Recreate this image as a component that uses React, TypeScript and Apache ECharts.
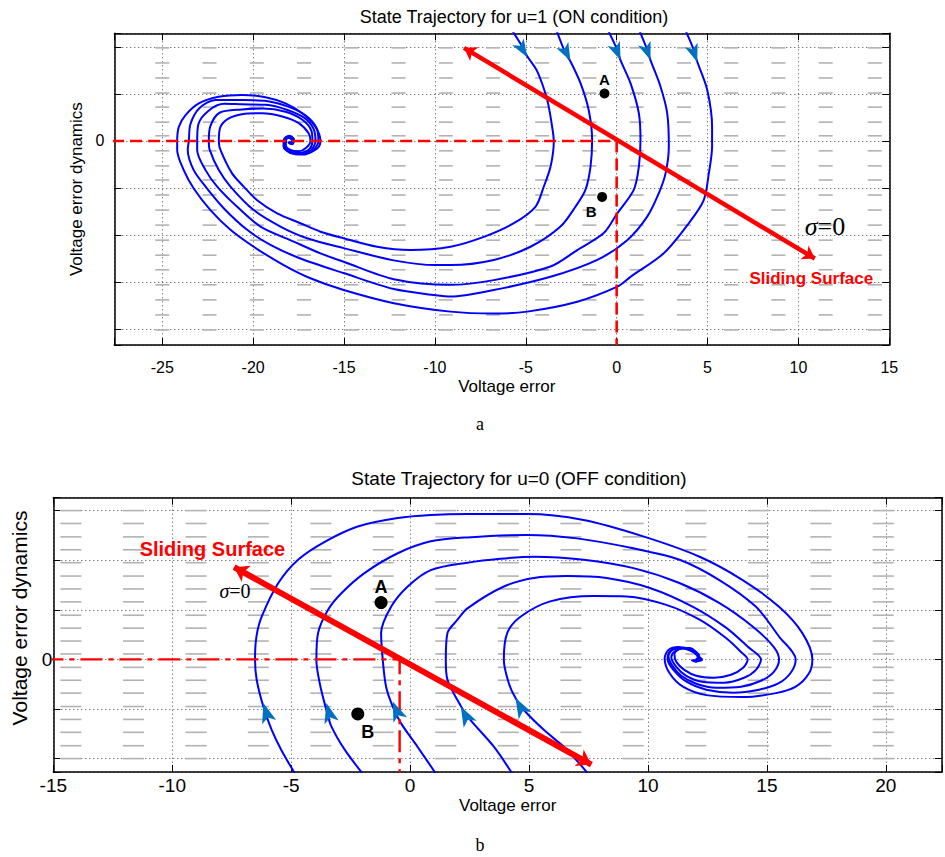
import React, { useEffect, useRef } from 'react';
import * as echarts from 'echarts';

const SANS = '"Liberation Sans", Arial, Helvetica, sans-serif';
const SERIF = '"Liberation Serif", "Times New Roman", Times, serif';

// ---------- axis ranges ----------
const topXRange = [-27.64, 15];
const topYRange = [-4.34, 2.29];
const botXRange = [-15, 22.36];
const botYRange = [-2.27, 3.26];

// ---------- background direction field (gray dashes) ----------
const topFieldX = [-25.0, -22.4, -19.8, -17.2, -14.6, -12.0, -9.4, -6.8, -4.1, -1.5, 1.1, 3.7, 6.3, 8.9, 11.5, 14.2];
const topFieldY = [1.98, 1.66, 1.34, 1.02, 0.72, 0.4, 0.11, -0.21, -0.53, -0.83, -1.15, -1.47, -1.79, -2.11, -2.43, -2.74, -3.06, -3.38, -3.7, -4.02];
const botFieldX = [-14.26, -11.63, -9.0, -6.38, -3.75, -1.13, 1.5, 4.13, 6.76, 9.38, 12.01, 14.64, 17.27, 19.89];
const botFieldY = [3.0, 2.74, 2.47, 2.21, 1.95, 1.68, 1.42, 1.16, 0.89, 0.63, 0.37, 0.11, -0.16, -0.42, -0.68, -0.95, -1.21, -1.47, -1.74, -2.0];

// ---------- (a) u = 1 trajectories ----------
const topTraj1 = [[-5.75, 2.35], [-5.2, 2.01], [-4.92, 1.8], [-4.37, 1.48], [-3.82, 0.87], [-3.55, 0.3], [-3.46, -0.01], [-3.64, -0.55], [-4.01, -0.97], [-4.47, -1.4], [-5.66, -1.75], [-7.31, -2.04], [-9.14, -2.25], [-11.35, -2.32], [-13.18, -2.25], [-15.02, -2.07], [-16.3, -1.93], [-17.4, -1.75], [-18.68, -1.54], [-19.78, -1.26], [-20.52, -0.97], [-21.16, -0.69], [-21.8, -0.19], [-21.89, 0], [-21.8, 0.3], [-21.34, 0.48], [-20.61, 0.57], [-19.5, 0.59], [-18.4, 0.52], [-17.49, 0.38], [-16.94, 0.16], [-16.85, 0], [-17.1, -0.15], [-17.5, -0.22], [-17.95, -0.19], [-18.2, -0.09], [-18.18, 0.03], [-17.95, 0.08], [-17.8, 0.02], [-17.88, -0.05], [-18.02, -0.02]];
const topTraj2 = [[-3.31, 2.35], [-2.82, 1.87], [-2.54, 1.69], [-1.99, 1.23], [-1.54, 0.66], [-1.35, 0.02], [-1.44, -0.55], [-1.72, -1.04], [-2.27, -1.4], [-3.09, -1.82], [-4.74, -2.25], [-6.76, -2.53], [-9.14, -2.64], [-9.97, -2.64], [-12.26, -2.54], [-15.02, -2.28], [-17.03, -2.07], [-18.5, -1.82], [-19.97, -1.47], [-21.25, -0.97], [-21.89, -0.62], [-22.39, -0.19], [-22.44, 0], [-22.35, 0.32], [-21.85, 0.6], [-20.61, 0.67], [-19.43, 0.69], [-18.22, 0.62], [-17.29, 0.45], [-16.79, 0.21], [-16.74, 0], [-16.9, -0.17], [-17.4, -0.25], [-17.95, -0.21], [-18.25, -0.1], [-18.22, 0.04], [-17.97, 0.09], [-17.78, 0.02], [-17.87, -0.06], [-18.04, -0.02]];
const topTraj3 = [[-0.47, 2.35], [0.03, 1.94], [0.21, 1.72], [0.76, 1.23], [1.22, 0.59], [1.31, 0.02], [1.22, -0.55], [0.94, -1.04], [0.03, -1.54], [-0.71, -1.96], [-2.17, -2.32], [-3.64, -2.67], [-6.76, -2.96], [-9.14, -3.06], [-12.26, -2.94], [-15.02, -2.57], [-16.3, -2.39], [-17.77, -2.14], [-19.6, -1.82], [-20.88, -1.4], [-21.98, -0.97], [-22.62, -0.62], [-23.08, -0.19], [-23.08, 0], [-23.01, 0.36], [-22.4, 0.66], [-21.58, 0.79], [-20.61, 0.78], [-19.32, 0.77], [-18.11, 0.66], [-17.18, 0.49], [-16.68, 0.26], [-16.57, 0], [-16.8, -0.19], [-17.35, -0.27], [-17.95, -0.23], [-18.28, -0.11], [-18.25, 0.05], [-17.98, 0.1], [-17.76, 0.03], [-17.86, -0.06], [-18.05, -0.03]];
const topTraj4 = [[1.25, 2.35], [1.68, 1.94], [1.86, 1.72], [2.41, 1.16], [2.78, 0.59], [2.87, -0.12], [2.69, -0.69], [2.32, -1.11], [1.68, -1.61], [0.58, -2.11], [-1.07, -2.53], [-3.64, -2.89], [-6.76, -3.17], [-9.14, -3.31], [-9.97, -3.28], [-12.26, -3.15], [-15.02, -2.81], [-17.4, -2.5], [-19.05, -2.21], [-20.33, -1.89], [-21.62, -1.43], [-22.62, -0.97], [-23.27, -0.62], [-23.6, -0.19], [-23.54, 0], [-23.45, 0.36], [-22.95, 0.7], [-22.07, 0.87], [-20.61, 0.87], [-19.27, 0.85], [-18.0, 0.72], [-17.07, 0.53], [-16.52, 0.28], [-16.41, 0], [-16.7, -0.2], [-17.3, -0.29], [-17.97, -0.25], [-18.32, -0.12], [-18.28, 0.05], [-18.0, 0.11], [-17.75, 0.03], [-17.85, -0.07], [-18.06, -0.03]];
const topTraj5 = [[3.79, 2.35], [4.24, 1.94], [4.43, 1.69], [4.98, 1.09], [5.25, 0.3], [5.25, -0.12], [5.07, -0.69], [4.79, -1.26], [3.97, -1.75], [2.59, -2.39], [0.76, -2.89], [0.03, -3.1], [-2.17, -3.42], [-4.92, -3.63], [-6.76, -3.67], [-9.14, -3.63], [-12.26, -3.45], [-15.02, -3.17], [-16.85, -2.92], [-18.32, -2.64], [-19.97, -2.25], [-21.25, -1.89], [-22.35, -1.47], [-23.27, -1.01], [-23.82, -0.62], [-24.18, -0.19], [-24.18, 0], [-24.09, 0.3], [-23.72, 0.55], [-22.99, 0.8], [-21.89, 0.94], [-20.61, 0.98], [-19.32, 0.93], [-18.22, 0.8], [-17.3, 0.59], [-16.57, 0.3], [-16.3, 0], [-16.48, -0.16], [-17.12, -0.26], [-17.85, -0.26], [-18.32, -0.12], [-18.32, 0.02], [-18.04, 0.07], [-17.85, 0.0], [-17.95, -0.06], [-18.08, -0.02]];
const topArrowPts = [[-4.92, 1.78], [-2.54, 1.7], [0.21, 1.72], [1.86, 1.72], [4.43, 1.68]];
const topArrowAngles = [-149, -153, -158, -160, -161];
const topSurface = [[-8.4, 1.98], [10.9, -2.5]];
const topDashed = [[-27.76, 0], [0, 0], [0, -4.34]];
const topPointA = [-0.67, 1.01];
const topPointB = [-0.8, -1.19];
const topSigmaPos = [11.46, -1.83];
const topSurfaceLabelPos = [10.71, -2.92];

// ---------- (b) u = 0 trajectories ----------
const botTraj1 = [[-4.78, -2.35], [-5.41, -1.83], [-5.82, -1.42], [-6.17, -0.95], [-6.45, -0.41], [-6.52, 0], [-6.46, 0.46], [-6.24, 0.86], [-5.54, 1.54], [-4.71, 2.01], [-3.59, 2.37], [-2.2, 2.68], [-0.52, 2.85], [0.87, 2.91], [2.41, 2.93], [4.92, 2.93], [7.29, 2.81], [9.8, 2.48], [12.17, 2.07], [13.98, 1.6], [15.51, 1.06], [16.49, 0.53], [16.91, 0], [16.77, -0.28], [16.21, -0.55], [15.38, -0.68], [13.98, -0.76], [12.45, -0.72], [11.47, -0.55], [10.91, -0.28], [10.7, 0.02], [10.86, 0.19], [11.28, 0.25], [11.82, 0.19], [12.15, 0.07], [12.11, -0.03], [11.9, -0.01]];
const botTraj2 = [[-1.92, -2.35], [-2.75, -1.82], [-3.31, -1.35], [-3.52, -1.02], [-3.8, -0.48], [-3.94, -0.01], [-3.87, 0.53], [-3.45, 1.0], [-2.9, 1.33], [-1.92, 1.74], [-0.52, 2.14], [0.87, 2.38], [2.41, 2.46], [4.92, 2.51], [7.01, 2.44], [9.38, 2.24], [11.33, 2.01], [13.0, 1.6], [14.54, 1.06], [15.51, 0.46], [16.21, 0], [16.0, -0.27], [15.5, -0.48], [14.67, -0.61], [13.58, -0.67], [12.45, -0.61], [11.62, -0.45], [11.07, -0.21], [10.82, 0.01], [10.94, 0.17], [11.32, 0.23], [11.82, 0.17], [12.11, 0.05], [12.03, -0.05], [11.82, -0.01]];
const botTraj3 = [[1.15, -2.35], [0.31, -1.76], [-0.38, -1.29], [-0.73, -0.95], [-1.01, -0.55], [-1.15, -0.01], [-1.22, 0.53], [-0.8, 1.06], [-0.1, 1.47], [0.87, 1.8], [2.41, 1.95], [3.79, 2.03], [5.21, 2.07], [7.3, 2.01], [9.39, 1.84], [11.32, 1.54], [12.99, 1.14], [14.41, 0.66], [15.29, 0.25], [15.51, 0], [15.29, -0.25], [14.75, -0.43], [13.91, -0.55], [12.87, -0.57], [12.03, -0.49], [11.4, -0.33], [11.03, -0.13], [10.86, 0.07], [11.03, 0.19], [11.45, 0.23], [11.9, 0.15], [12.11, 0.03], [11.95, -0.03]];
const botTraj4 = [[4.36, -2.35], [3.52, -1.76], [2.41, -1.15], [1.99, -0.82], [1.57, -0.41], [1.5, -0.01], [1.57, 0.53], [1.99, 0.8], [2.41, 1.03], [3.94, 1.47], [5.2, 1.64], [6.59, 1.68], [8.26, 1.64], [10.08, 1.44], [11.89, 1.06], [13.28, 0.64], [14.21, 0.25], [14.75, 0], [14.54, -0.21], [14.04, -0.37], [13.2, -0.47], [12.28, -0.45], [11.61, -0.33], [11.19, -0.15], [10.98, 0.05], [11.15, 0.17], [11.53, 0.23], [11.95, 0.15], [12.15, 0.03]];
const botTraj5 = [[7.56, -2.35], [6.59, -1.82], [5.62, -1.42], [4.78, -1.02], [4.43, -0.78], [4.15, -0.48], [3.94, -0.01], [4.08, 0.53], [4.64, 0.86], [5.89, 1.17], [7.71, 1.28], [9.1, 1.27], [10.77, 1.1], [12.17, 0.8], [13.28, 0.43], [13.91, 0.15], [14.19, 0], [14.0, -0.17], [13.49, -0.31], [12.78, -0.37], [12.03, -0.33], [11.53, -0.21], [11.19, -0.05], [11.11, 0.11], [11.32, 0.21], [11.74, 0.23], [12.07, 0.13], [12.2, 0.01]];
const botFocus = [12.15, 0];
const botArrowPts = [[-6.17, -0.88], [-3.52, -0.88], [-0.73, -0.85], [2.13, -0.95], [4.43, -0.78]];
const botArrowAngles = [17, 15, 22, 28, 29];
const botSurface = [[-7.4, 1.86], [7.62, -2.12]];
const botDashed = [[-15.5, 0], [-0.44, 0], [-0.44, -2.27]];
const botPointA = [-1.22, 1.145];
const botPointB = [-2.2, -1.1];
const botSigmaPos = [-7.36, 1.37];
const botSurfaceLabelPos = [-8.31, 2.22];

const topTrajs = [topTraj1, topTraj2, topTraj3, topTraj4, topTraj5];
const botTrajs = [botTraj1, botTraj2, botTraj3, botTraj4, botTraj5];

const cross = (xs: number[], ys: number[]) => xs.flatMap((x) => ys.map((y) => [x, y]));

function makeX(gridIndex: number, range: number[], labelSize: number, labelMargin: number, nameGap: number, namePad: number) {
  const fmt = (v: number) => (Math.abs(v / 5 - Math.round(v / 5)) < 1e-6 ? String(Math.round(v)) : '');
  const common: any = {
    type: 'value', gridIndex, min: range[0], max: range[1], minInterval: 5, maxInterval: 5, splitNumber: 8,
    axisLine: { show: true, onZero: false, lineStyle: { color: '#000', width: 1.5 } },
    axisTick: { show: true, inside: true, length: 7, lineStyle: { color: '#000', width: 1 } },
  };
  return [
    {
      ...common, position: 'bottom',
      splitLine: { show: true, lineStyle: { color: '#333', width: 0.9, type: [1, 3] } },
      axisLabel: { show: true, color: '#000', fontSize: labelSize, fontFamily: SANS, margin: labelMargin, formatter: fmt },
      name: 'Voltage error', nameLocation: 'middle', nameGap,
      nameTextStyle: { color: '#000', fontSize: 17, fontFamily: SANS, padding: [0, 0, 0, namePad] },
    },
    { ...common, position: 'top', splitLine: { show: false }, axisLabel: { show: false } },
  ];
}

function makeY(gridIndex: number, range: number[], labelSize: number, labelMargin: number, showName: boolean, nameGap: number) {
  const fmt = (v: number) => (Math.abs(v) < 1e-9 ? '0' : '');
  const common: any = {
    type: 'value', gridIndex, min: range[0], max: range[1], minInterval: 1, maxInterval: 1, splitNumber: 6,
    axisLine: { show: true, onZero: false, lineStyle: { color: '#000', width: 1.5 } },
    axisTick: { show: true, inside: true, length: 7, lineStyle: { color: '#000', width: 1 } },
  };
  return [
    {
      ...common, position: 'left',
      splitLine: { show: true, lineStyle: { color: '#333', width: 0.9, type: [1, 3] } },
      axisLabel: { show: true, color: '#000', fontSize: labelSize, fontFamily: SANS, margin: labelMargin, formatter: fmt },
      name: showName ? 'Voltage error dynamics' : '', nameLocation: 'middle', nameGap,
      nameTextStyle: { color: '#000', fontSize: 17, fontFamily: SANS },
    },
    { ...common, position: 'right', splitLine: { show: false }, axisLabel: { show: false } },
  ];
}

function panelSeries(ax: number, o: any) {
  const s: any[] = [];
  s.push({
    type: 'scatter', xAxisIndex: ax, yAxisIndex: ax, silent: true, z: 1,
    symbol: 'rect', symbolSize: o.dashSize, itemStyle: { color: '#b2b2b2', opacity: 1 },
    data: cross(o.fieldX, o.fieldY),
  });
  o.trajs.forEach((t: number[][]) => {
    s.push({
      type: 'line', xAxisIndex: ax, yAxisIndex: ax, z: 3, symbol: 'none', smooth: 0.3,
      lineStyle: { color: '#0000ff', width: 2 }, data: t,
    });
  });
  s.push({
    type: 'line', xAxisIndex: ax, yAxisIndex: ax, z: 4, symbol: 'none', clip: false,
    lineStyle: { color: '#ff0000', width: o.dashWidth, type: o.dashType }, data: o.dashed,
  });
  s.push({
    type: 'lines', coordinateSystem: 'cartesian2d', xAxisIndex: ax, yAxisIndex: ax, z: 5,
    symbol: ['arrow', 'arrow'], symbolSize: o.surfArrow,
    lineStyle: { color: '#ff0000', width: o.surfWidth, opacity: 1, type: 'solid' },
    data: [{ coords: o.surface }],
  });
  s.push({
    type: 'scatter', xAxisIndex: ax, yAxisIndex: ax, z: 6, symbol: 'arrow', symbolSize: o.arrowSize,
    itemStyle: { color: '#0070C0', opacity: 1 },
    data: o.arrowPts.map((p: number[], i: number) => ({ value: p, symbolRotate: o.arrowAngles[i] })),
  });
  if (o.focus) {
    s.push({
      type: 'scatter', xAxisIndex: ax, yAxisIndex: ax, z: 4, symbol: 'circle', symbolSize: [8, 5],
      itemStyle: { color: '#0000ff', opacity: 1 }, data: [o.focus],
    });
  }
  const lbl = { show: true, formatter: '{b}', color: '#000', fontSize: o.ptFont, fontWeight: 'bold', fontFamily: SANS };
  s.push({
    type: 'scatter', xAxisIndex: ax, yAxisIndex: ax, z: 7, symbol: 'circle', symbolSize: o.ptSize,
    itemStyle: { color: '#000', opacity: 1 },
    data: [
      { name: 'A', value: o.ptA, label: { ...lbl, position: 'top', distance: o.aDist } },
      { name: 'B', value: o.ptB, label: { ...lbl, position: 'bottom', distance: o.bDist, offset: o.bOffset } },
    ],
  });
  s.push({
    type: 'scatter', xAxisIndex: ax, yAxisIndex: ax, z: 7, symbolSize: 1, itemStyle: { color: 'rgba(0,0,0,0)', opacity: 1 },
    data: [{ name: 'sigma', value: o.sigmaPos }],
    label: {
      show: true, position: 'inside', formatter: '{s|σ}{e|=0}', opacity: 1,
      rich: {
        s: { fontFamily: SERIF, fontStyle: 'italic', fontSize: o.sigmaFont, color: '#000' },
        e: { fontFamily: SERIF, fontSize: o.sigmaFont, color: '#000' },
      },
    },
  });
  s.push({
    type: 'scatter', xAxisIndex: ax, yAxisIndex: ax, z: 7, symbolSize: 1, itemStyle: { color: 'rgba(0,0,0,0)', opacity: 1 },
    data: [{ name: 'surf', value: o.surfLabelPos }],
    label: { show: true, position: 'inside', opacity: 1, formatter: 'Sliding Surface', color: '#ff0000', fontWeight: 'bold', fontSize: o.surfFont, fontFamily: SANS },
  });
  return s;
}

function textEl(text: string, x: number, y: number, font: string, rotation = 0) {
  return {
    type: 'text', x, y, rotation,
    style: { text, font, fill: '#000', align: 'center', verticalAlign: 'middle', textAlign: 'center', textVerticalAlign: 'middle' },
  };
}

export default function App() {
  const ref = useRef<HTMLDivElement>(null);
  useEffect(() => {
    if (!ref.current) return;
    const chart = echarts.init(ref.current, undefined, { renderer: 'svg' });
    const option: any = {
      animation: false,
      backgroundColor: '#fff',
      grid: [
        { left: 114.3, top: 33.3, width: 775, height: 311.7, containLabel: false },
        { left: 53.3, top: 497.7, width: 893, height: 274.3, containLabel: false },
      ],
      xAxis: [...makeX(0, topXRange, 16, 14, 33, 10), ...makeX(1, botXRange, 19, 4, 25, 20)],
      yAxis: [...makeY(0, topYRange, 16, 10, true, 27), ...makeY(1, botYRange, 19, 1, false, 24)],
      graphic: [
        textEl('State Trajectory for u=1 (ON condition)', 514, 17, `18px ${SANS}`),
        textEl('State Trajectory for u=0 (OFF condition)', 519, 478, `19px ${SANS}`),
        textEl('Voltage error dynamics', 19, 618, `21px ${SANS}`, Math.PI / 2),
        textEl('a', 480, 424, `18px ${SERIF}`),
        textEl('b', 480, 845, `18px ${SERIF}`),
      ],
      series: [
        ...panelSeries(0, {
          fieldX: topFieldX, fieldY: topFieldY, dashSize: [14, 1.6], trajs: topTrajs,
          dashed: topDashed, dashWidth: 2.6, dashType: [12, 6],
          surface: topSurface, surfWidth: 4.5, surfArrow: 12,
          arrowPts: topArrowPts, arrowAngles: topArrowAngles, arrowSize: [10, 18],
          ptA: topPointA, ptB: topPointB, ptSize: 10, ptFont: 15, aDist: 1, bDist: 2, bOffset: [-11, 0],
          sigmaPos: topSigmaPos, sigmaFont: 26, surfLabelPos: topSurfaceLabelPos, surfFont: 17,
        }),
        ...panelSeries(2, {
          fieldX: botFieldX, fieldY: botFieldY, dashSize: [21, 1.6], trajs: botTrajs,
          dashed: botDashed, dashWidth: 2.4, dashType: [22, 6, 5, 6],
          surface: botSurface, surfWidth: 6, surfArrow: 14, focus: botFocus,
          arrowPts: botArrowPts, arrowAngles: botArrowAngles, arrowSize: [11, 20],
          ptA: botPointA, ptB: botPointB, ptSize: 13, ptFont: 18, aDist: 0, bDist: 3, bOffset: [10, 0],
          sigmaPos: botSigmaPos, sigmaFont: 20, surfLabelPos: botSurfaceLabelPos, surfFont: 20,
        }),
      ],
    };
    chart.setOption(option);
    return () => chart.dispose();
  }, []);
  return <div ref={ref} style={{ position: 'fixed', left: 0, top: 0, width: 945, height: 857, background: '#fff' }} />;
}
